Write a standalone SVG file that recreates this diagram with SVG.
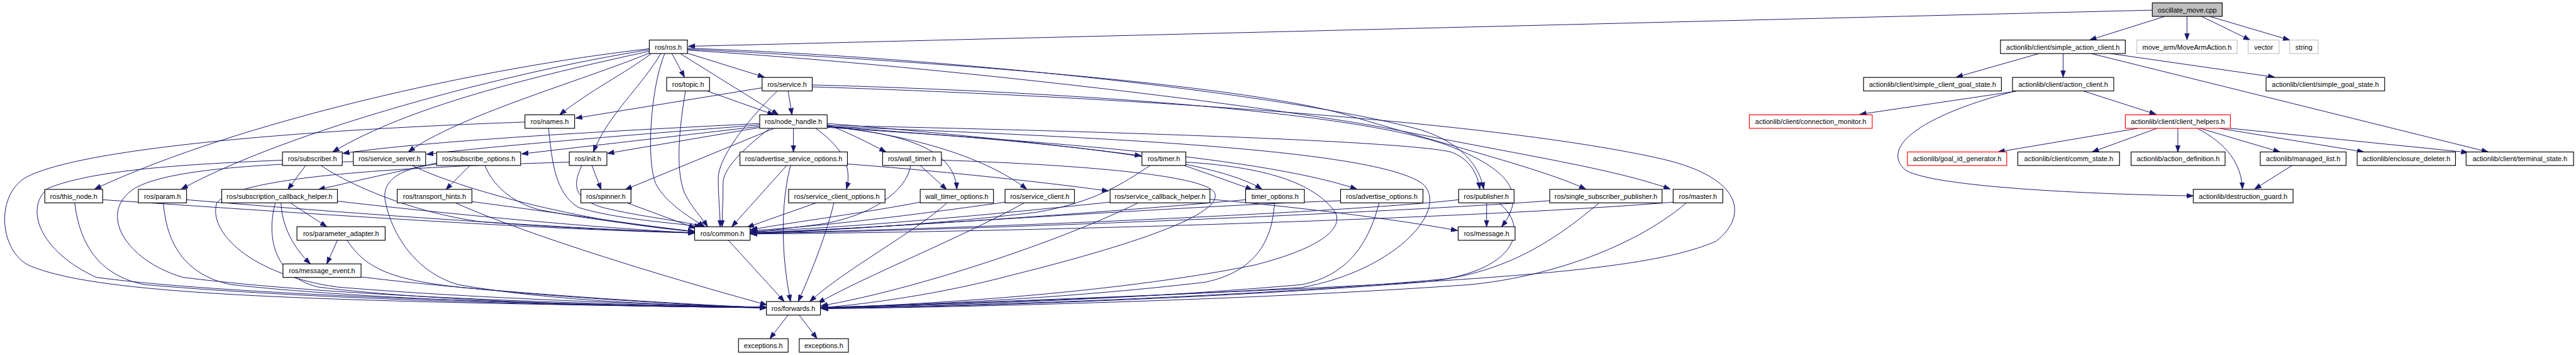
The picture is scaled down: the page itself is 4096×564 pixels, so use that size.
<svg xmlns="http://www.w3.org/2000/svg" width="4096" height="564" viewBox="0 0 4096 564">
<style>
.n rect{fill:#fff;stroke:#000;stroke-width:1.5}
.n.g rect{stroke:#bfbfbf}
.n.r rect{stroke:#ff0000}
.n.m rect{fill:#bfbfbf}
.n text{font-family:"Liberation Sans",Arial,sans-serif;font-size:14.4px;text-anchor:middle;fill:#000}
#edges path{fill:none;stroke:#191970;stroke-width:1.3;marker-end:url(#a)}
</style>
<defs>
<marker id="a" markerUnits="userSpaceOnUse" markerWidth="16" markerHeight="12" viewBox="0 0 16 12" refX="14" refY="5.5" orient="auto"><path d="M0,0.5 L14,5.5 L0,10.5 z" fill="#191970" stroke="#191970" stroke-width="1"/></marker>
</defs>
<rect width="4096" height="564" fill="#fff"/>
<g transform="scale(0.76647)">
<g id="edges">
<path d="M4465,21 L1428,96"/>
<path d="M4491,34 L4335,83"/>
<path d="M4537,34 L4537,83"/>
<path d="M4567,34 L4668,83"/>
<path d="M4584,34 L4750,83"/>
<path d="M4230,111 L4058,160"/>
<path d="M4280,111 L4280,160"/>
<path d="M4378,111 L4719,160"/>
<path d="M4338,111 L5162,315"/>
<path d="M4183,189 L3858,237"/>
<path d="M4323,189 L4473,237"/>
<path d="M4180,189 C4000,235 3900,300 3950,350 C3990,385 4300,402 4550,406"/>
<path d="M4435,266 L4145,315"/>
<path d="M4475,266 L4340,315"/>
<path d="M4518,266 L4518,315"/>
<path d="M4564,266 L4730,315"/>
<path d="M4604,266 L4904,315"/>
<path d="M4627,266 L5120,316"/>
<path d="M4558,266 C4620,298 4650,340 4652,392"/>
<path d="M4755,343 L4677,392"/>
<path d="M1394,111 L1420,160"/>
<path d="M1425,110 L1586,160"/>
<path d="M1411,111 L1615,238"/>
<path d="M1351,111 C1300,150 1220,190 1161,238"/>
<path d="M1371,111 C1330,180 1260,240 1231,315"/>
<path d="M1379,111 C1350,180 1340,330 1360,380 C1380,420 1430,450 1462,470"/>
<path d="M1347,101 C1000,140 500,250 196,392"/>
<path d="M1347,103 C1050,150 600,270 376,392"/>
<path d="M1348,106 C1100,160 850,220 690,315"/>
<path d="M1350,109 C1200,170 950,240 847,315"/>
<path d="M1426,100 C2000,120 2700,200 2950,270 C3040,300 3070,350 3078,392"/>
<path d="M1426,102 C2000,130 2600,180 2800,240 C3000,300 3200,350 3290,392"/>
<path d="M1426,104 C2000,140 2700,230 2900,270 C3150,320 3350,350 3465,392"/>
<path d="M1468,189 L1606,238"/>
<path d="M1422,189 C1410,260 1400,350 1420,400 C1435,430 1455,450 1468,470"/>
<path d="M1581,182 L1194,245"/>
<path d="M1635,189 L1643,238"/>
<path d="M1612,189 C1540,260 1490,330 1490,370 C1490,410 1494,440 1494,470"/>
<path d="M1685,176 C2200,190 2800,230 3000,300 C3130,350 3170,400 3115,470"/>
<path d="M1685,180 C2300,200 3100,250 3450,330 C3620,370 3625,450 3560,500 C3400,570 3000,590 1703,639"/>
<path d="M1138,266 C1145,330 1150,400 1200,430 C1280,455 1400,462 1455,470"/>
<path d="M1089,253 C600,270 150,310 50,370 C-10,410 0,520 60,550 C200,610 600,625 1590,638"/>
<path d="M1576,256 C1300,270 900,290 711,318"/>
<path d="M1576,259 C1300,280 1000,305 885,320"/>
<path d="M1576,262 L1082,319"/>
<path d="M1578,264 L1260,318"/>
<path d="M1646,266 L1646,315"/>
<path d="M1716,258 C1760,275 1800,295 1838,315"/>
<path d="M1716,256 C1900,270 2200,300 2368,323"/>
<path d="M1606,266 L1297,393"/>
<path d="M1597,266 C1540,310 1500,350 1500,380 C1500,420 1498,445 1498,470"/>
<path d="M1692,266 C1740,300 1770,340 1756,392"/>
<path d="M1716,262 C1850,275 1980,300 1985,392"/>
<path d="M1716,262 C1900,280 2050,330 2130,392"/>
<path d="M1716,262 C2100,290 2500,320 2618,392"/>
<path d="M1716,264 C2100,290 2600,320 2815,392"/>
<path d="M1716,260 C2200,270 2900,290 3010,315 C3050,330 3065,360 3070,392"/>
<path d="M1716,262 C2300,285 2850,310 2950,380 C3010,430 2900,560 2700,596 C2300,620 1900,632 1703,637"/>
<path d="M1228,343 L1247,393"/>
<path d="M1207,343 C1190,380 1185,410 1250,430 C1330,450 1420,458 1460,470"/>
<path d="M1181,336 C900,345 500,360 450,420 C430,480 520,570 700,595 C1000,620 1400,632 1590,637"/>
<path d="M634,343 L597,393"/>
<path d="M666,343 C720,380 850,440 1000,460 C1200,475 1350,480 1441,482"/>
<path d="M586,332 C400,340 200,350 100,390 C50,430 80,520 200,575 C500,615 1200,632 1590,637"/>
<path d="M855,343 C950,390 1200,460 1441,480"/>
<path d="M733,335 C550,340 350,350 280,390 C200,440 260,540 380,575 C700,615 1200,630 1590,637"/>
<path d="M975,343 L925,393"/>
<path d="M906,338 C850,350 760,370 660,393"/>
<path d="M1006,343 C1020,380 1060,420 1120,435 C1250,460 1380,472 1441,480"/>
<path d="M906,340 C820,350 790,380 800,420 C810,470 850,560 950,590 C1150,625 1400,633 1590,637"/>
<path d="M1758,340 C1900,350 2150,375 2300,396"/>
<path d="M1632,343 L1518,470"/>
<path d="M1640,343 C1625,400 1615,500 1640,625"/>
<path d="M1909,343 L1964,393"/>
<path d="M1889,343 C1880,400 1800,450 1700,465 C1620,475 1580,480 1557,482"/>
<path d="M1953,332 C2200,340 2500,360 2520,400 C2540,450 2300,520 2100,570 C1950,610 1800,630 1704,638"/>
<path d="M2457,343 L2598,393"/>
<path d="M2386,343 C2330,380 2270,420 2150,440 C1900,470 1650,480 1557,484"/>
<path d="M2460,336 C2600,345 2720,370 2770,440 C2790,480 2720,520 2600,550 C2300,610 1900,632 1704,638"/>
<path d="M213,414 C600,440 1100,475 1441,483"/>
<path d="M155,421 C165,500 200,570 300,590 C700,625 1300,635 1590,638"/>
<path d="M387,414 C700,440 1100,470 1441,483"/>
<path d="M339,421 C345,500 380,570 480,590 C800,625 1300,635 1590,638"/>
<path d="M603,421 L678,470"/>
<path d="M583,421 C585,470 610,515 644,547"/>
<path d="M700,417 C900,440 1200,470 1441,483"/>
<path d="M571,421 C555,480 560,570 660,595 C900,625 1300,635 1590,638"/>
<path d="M979,418 C1150,440 1350,470 1441,480"/>
<path d="M946,421 C1100,490 1400,580 1591,632"/>
<path d="M1302,421 L1443,473"/>
<path d="M1692,421 L1550,471"/>
<path d="M1730,421 C1710,500 1680,570 1656,625"/>
<path d="M1909,419 C1800,440 1650,460 1557,476"/>
<path d="M1964,421 C1900,480 1750,560 1680,625"/>
<path d="M2085,419 C1900,445 1700,470 1557,478"/>
<path d="M2124,421 C2000,490 1800,570 1697,628"/>
<path d="M2510,413 C2700,430 2900,455 3024,478"/>
<path d="M2303,419 C2100,440 1800,470 1557,480"/>
<path d="M2360,421 C2200,500 1900,600 1703,634"/>
<path d="M2584,414 C2300,440 1800,475 1557,482"/>
<path d="M2644,421 C2640,480 2620,560 2500,585 C2200,620 1900,632 1704,638"/>
<path d="M2781,416 C2400,430 1800,475 1557,483"/>
<path d="M2861,421 C2840,500 2800,570 2700,590 C2300,625 1900,633 1704,639"/>
<path d="M3084,421 L3084,470"/>
<path d="M3026,414 C2800,440 2000,475 1557,483"/>
<path d="M3110,421 C3170,470 3150,550 3000,578 C2600,615 2000,635 1704,639"/>
<path d="M3215,416 C2900,440 2000,478 1557,484"/>
<path d="M3317,421 C3200,520 3100,570 2950,585 C2500,620 2000,636 1704,639"/>
<path d="M3471,419 C3100,450 2200,480 1557,485"/>
<path d="M3498,421 C3380,520 3200,575 3050,590 C2600,622 2000,637 1704,640"/>
<path d="M700,498 L678,547"/>
<path d="M720,498 C760,560 820,580 950,595 C1200,620 1450,633 1590,638"/>
<path d="M749,574 C1000,605 1400,630 1590,638"/>
<path d="M1511,498 L1627,625"/>
<path d="M1635,653 L1597,702"/>
<path d="M1658,653 L1695,702"/>
</g>
<g id="oscillate_move" class="n m"><rect x="4465" y="6" width="145" height="28"/><text x="4537.5" y="25.5">oscillate_move.cpp</text></g>
<g id="ros_ros" class="n"><rect x="1347" y="83" width="79" height="28"/><text x="1386.5" y="102.5">ros/ros.h</text></g>
<g id="simple_action_client" class="n"><rect x="4150" y="83" width="259" height="28"/><text x="4279.5" y="102.5">actionlib/client/simple_action_client.h</text></g>
<g id="move_arm_action" class="n g"><rect x="4433" y="83" width="208" height="28"/><text x="4537" y="102.5">move_arm/MoveArmAction.h</text></g>
<g id="vector" class="n g"><rect x="4664" y="83" width="64" height="28"/><text x="4696" y="102.5">vector</text></g>
<g id="string" class="n g"><rect x="4750" y="83" width="59" height="28"/><text x="4779.5" y="102.5">string</text></g>
<g id="ros_topic" class="n"><rect x="1383" y="160.5" width="89" height="28"/><text x="1427.5" y="180">ros/topic.h</text></g>
<g id="ros_service" class="n"><rect x="1581" y="160.5" width="104" height="28"/><text x="1633" y="180">ros/service.h</text></g>
<g id="simple_client_goal_state" class="n"><rect x="3866" y="160.5" width="286" height="28"/><text x="4009" y="180">actionlib/client/simple_client_goal_state.h</text></g>
<g id="action_client" class="n"><rect x="4175" y="160.5" width="210" height="28"/><text x="4280" y="180">actionlib/client/action_client.h</text></g>
<g id="simple_goal_state" class="n"><rect x="4701" y="160.5" width="246" height="28"/><text x="4824" y="180">actionlib/client/simple_goal_state.h</text></g>
<g id="ros_names" class="n"><rect x="1089" y="238" width="103" height="28"/><text x="1140.5" y="257.5">ros/names.h</text></g>
<g id="ros_node_handle" class="n"><rect x="1576" y="238" width="140" height="28"/><text x="1646" y="257.5">ros/node_handle.h</text></g>
<g id="connection_monitor" class="n r"><rect x="3629" y="238" width="255" height="28"/><text x="3756.5" y="257.5">actionlib/client/connection_monitor.h</text></g>
<g id="client_helpers" class="n r"><rect x="4409" y="238" width="218" height="28"/><text x="4518" y="257.5">actionlib/client/client_helpers.h</text></g>
<g id="ros_subscriber" class="n"><rect x="586" y="315" width="124" height="28"/><text x="648" y="334.5">ros/subscriber.h</text></g>
<g id="ros_service_server" class="n"><rect x="733" y="315" width="150" height="28"/><text x="808" y="334.5">ros/service_server.h</text></g>
<g id="ros_subscribe_options" class="n"><rect x="906" y="315" width="174" height="28"/><text x="993" y="334.5">ros/subscribe_options.h</text></g>
<g id="ros_init" class="n"><rect x="1181" y="315" width="78" height="28"/><text x="1220" y="334.5">ros/init.h</text></g>
<g id="ros_advertise_service_options" class="n"><rect x="1535" y="315" width="223" height="28"/><text x="1646.5" y="334.5">ros/advertise_service_options.h</text></g>
<g id="ros_wall_timer" class="n"><rect x="1831" y="315" width="122" height="28"/><text x="1892" y="334.5">ros/wall_timer.h</text></g>
<g id="ros_timer" class="n"><rect x="2369" y="315" width="91" height="28"/><text x="2414.5" y="334.5">ros/timer.h</text></g>
<g id="goal_id_generator" class="n r"><rect x="3957" y="315" width="206" height="28"/><text x="4060" y="334.5">actionlib/goal_id_generator.h</text></g>
<g id="comm_state" class="n"><rect x="4186" y="315" width="211" height="28"/><text x="4291.5" y="334.5">actionlib/client/comm_state.h</text></g>
<g id="action_definition" class="n"><rect x="4421" y="315" width="195" height="28"/><text x="4518.5" y="334.5">actionlib/action_definition.h</text></g>
<g id="managed_list" class="n"><rect x="4689" y="315" width="178" height="28"/><text x="4778" y="334.5">actionlib/managed_list.h</text></g>
<g id="enclosure_deleter" class="n"><rect x="4890" y="315" width="204" height="28"/><text x="4992" y="334.5">actionlib/enclosure_deleter.h</text></g>
<g id="terminal_state" class="n"><rect x="5116" y="315" width="223" height="28"/><text x="5227.5" y="334.5">actionlib/client/terminal_state.h</text></g>
<g id="ros_this_node" class="n"><rect x="93" y="392.5" width="120" height="28"/><text x="153" y="412">ros/this_node.h</text></g>
<g id="ros_param" class="n"><rect x="287" y="392.5" width="100" height="28"/><text x="337" y="412">ros/param.h</text></g>
<g id="ros_subscription_callback_helper" class="n"><rect x="460" y="392.5" width="240" height="28"/><text x="580" y="412">ros/subscription_callback_helper.h</text></g>
<g id="ros_transport_hints" class="n"><rect x="824" y="392.5" width="155" height="28"/><text x="901.5" y="412">ros/transport_hints.h</text></g>
<g id="ros_spinner" class="n"><rect x="1205" y="392.5" width="104" height="28"/><text x="1257" y="412">ros/spinner.h</text></g>
<g id="ros_service_client_options" class="n"><rect x="1636" y="392.5" width="200" height="28"/><text x="1736" y="412">ros/service_client_options.h</text></g>
<g id="wall_timer_options" class="n"><rect x="1909" y="392.5" width="152" height="28"/><text x="1985" y="412">wall_timer_options.h</text></g>
<g id="ros_service_client" class="n"><rect x="2085" y="392.5" width="144" height="28"/><text x="2157" y="412">ros/service_client.h</text></g>
<g id="ros_service_callback_helper" class="n"><rect x="2303" y="392.5" width="207" height="28"/><text x="2406.5" y="412">ros/service_callback_helper.h</text></g>
<g id="timer_options" class="n"><rect x="2584" y="392.5" width="122" height="28"/><text x="2645" y="412">timer_options.h</text></g>
<g id="ros_advertise_options" class="n"><rect x="2781" y="392.5" width="171" height="28"/><text x="2866.5" y="412">ros/advertise_options.h</text></g>
<g id="ros_publisher" class="n"><rect x="3026" y="392.5" width="115" height="28"/><text x="3083.5" y="412">ros/publisher.h</text></g>
<g id="ros_single_subscriber_publisher" class="n"><rect x="3215" y="392.5" width="233" height="28"/><text x="3331.5" y="412">ros/single_subscriber_publisher.h</text></g>
<g id="ros_master" class="n"><rect x="3471" y="392.5" width="103" height="28"/><text x="3522.5" y="412">ros/master.h</text></g>
<g id="destruction_guard" class="n"><rect x="4550" y="392.5" width="207" height="28"/><text x="4653.5" y="412">actionlib/destruction_guard.h</text></g>
<g id="ros_parameter_adapter" class="n"><rect x="616" y="470" width="183" height="28"/><text x="707.5" y="489.5">ros/parameter_adapter.h</text></g>
<g id="ros_common" class="n"><rect x="1441" y="470" width="115" height="28"/><text x="1498.5" y="489.5">ros/common.h</text></g>
<g id="ros_message" class="n"><rect x="3025" y="470" width="118" height="28"/><text x="3084" y="489.5">ros/message.h</text></g>
<g id="ros_message_event" class="n"><rect x="587" y="547" width="162" height="28"/><text x="668" y="566.5">ros/message_event.h</text></g>
<g id="ros_forwards" class="n"><rect x="1590" y="625" width="112" height="28"/><text x="1646" y="644.5">ros/forwards.h</text></g>
<g id="exceptions_1" class="n"><rect x="1532" y="702" width="103" height="28"/><text x="1583.5" y="721.5">exceptions.h</text></g>
<g id="exceptions_2" class="n"><rect x="1658" y="702" width="102" height="28"/><text x="1709" y="721.5">exceptions.h</text></g>
</g>
</svg>
